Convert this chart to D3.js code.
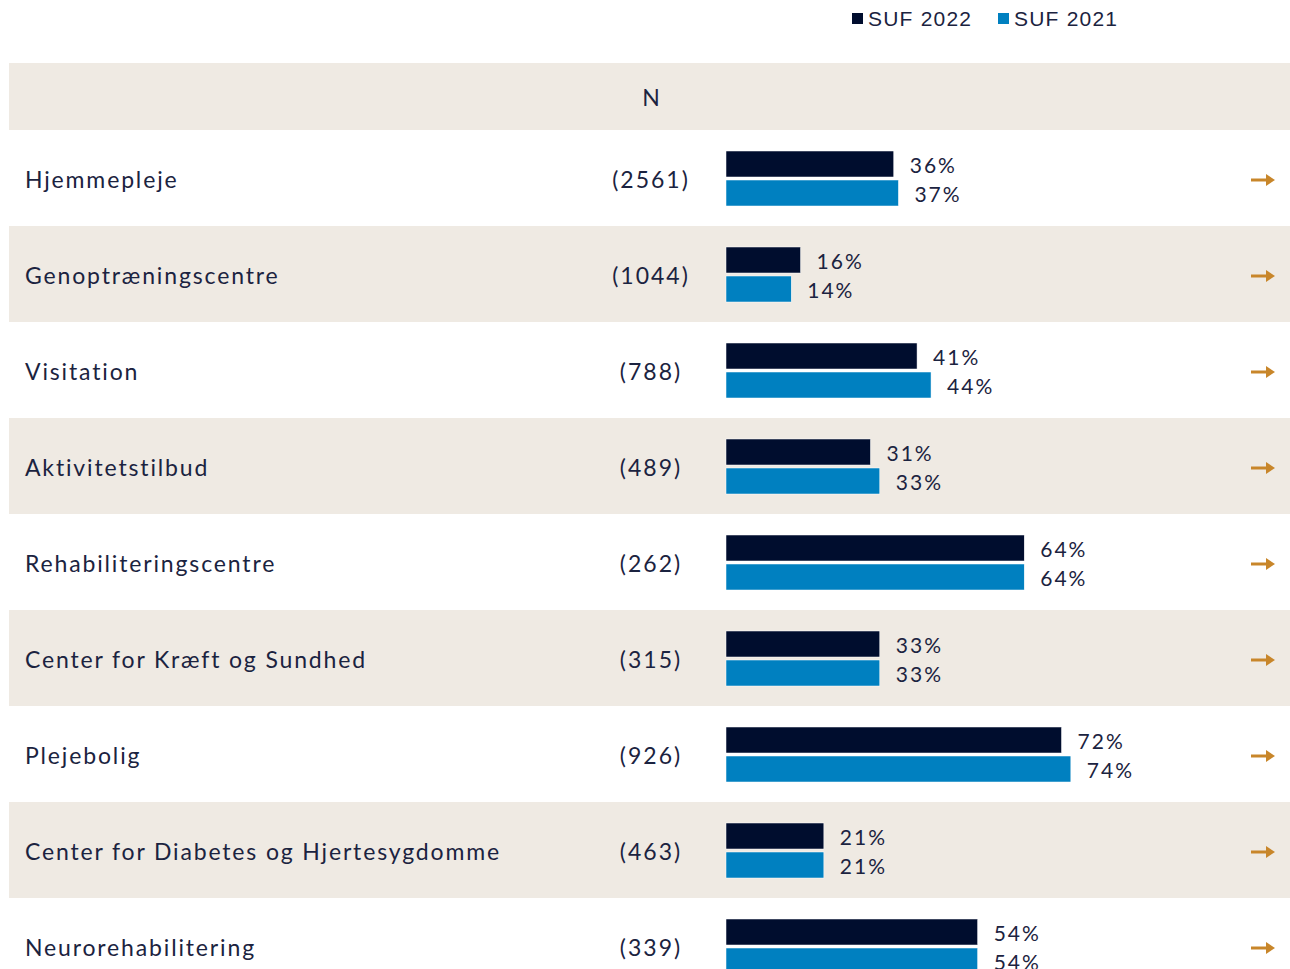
<!DOCTYPE html>
<html lang="da">
<head>
<meta charset="UTF-8">
<title>SUF 2022 vs 2021</title>
<script src="https://d3js.org/d3.v7.min.js"></script>
<style>
    body { margin: 0; background: #fff; }
    svg { display: block; }
    .cat { font-family: "Lato", sans-serif; font-size: 23px; fill: #1b2340; letter-spacing: 1.85px; }
    .num { font-family: "Lato", sans-serif; font-size: 23px; fill: #1b2340; letter-spacing: 2px; }
    .pct { font-family: "Lato", sans-serif; font-size: 21px; fill: #1b2340; letter-spacing: 2px; }
    .leg { font-family: "Liberation Sans", Arial, sans-serif; font-size: 21px; fill: #1b2340; letter-spacing: 1.2px; }
</style>
</head>
<body>
<svg width="1290" height="969"></svg>
<script>
    // data
    const categories = ["Hjemmepleje", "Genoptræningscentre", "Visitation", "Aktivitetstilbud",
        "Rehabiliteringscentre", "Center for Kræft og Sundhed", "Plejebolig",
        "Center for Diabetes og Hjertesygdomme", "Neurorehabilitering"];
    const nValues = [2561, 1044, 788, 489, 262, 315, 926, 463, 339];
    const suf2022 = [36, 16, 41, 31, 64, 33, 72, 21, 54];
    const suf2021 = [37, 14, 44, 33, 64, 33, 74, 21, 54];
    const seriesNames = ["SUF 2022", "SUF 2021"];

    const dark = "#000d2e";
    const blue = "#0080c0";
    const beige = "#efeae3";
    const arrowCol = "#c8862a";

    const svg = d3.select("svg");

    const y = d3.scaleBand().domain(categories).range([130, 130 + 96 * categories.length]).padding(0);
    const x = d3.scaleLinear().domain([0, 100]).range([726, 1192]);

    // header row
    svg.append("rect").attr("x", 9).attr("y", 63).attr("width", 1281).attr("height", 67).attr("fill", beige);
    svg.append("text").attr("class", "num").attr("x", 651).attr("y", 97)
        .attr("text-anchor", "middle").attr("dominant-baseline", "central").style("letter-spacing", "0px").text("N");

    // legend
    const leg = svg.append("g");
    const legX = [852, 998];
    seriesNames.forEach((s, i) => {
        leg.append("rect").attr("x", legX[i]).attr("y", 13).attr("width", 11).attr("height", 11)
            .attr("fill", i === 0 ? dark : blue);
        leg.append("text").attr("class", "leg").attr("x", legX[i] + 16).attr("y", 26).text(s);
    });

    const rows = svg.append("g").selectAll("g")
        .data(categories)
        .join("g")
        .attr("transform", d => `translate(0,${y(d)})`);

    rows.append("rect")
        .attr("x", 9).attr("width", 1281).attr("height", y.bandwidth())
        .attr("fill", (d, i) => i % 2 === 1 ? beige : "#fff");

    rows.append("text").attr("class", "cat")
        .attr("x", 25).attr("y", 49).attr("dominant-baseline", "central")
        .text(d => d);

    rows.append("text").attr("class", "num")
        .attr("x", 651).attr("y", 49).attr("text-anchor", "middle").attr("dominant-baseline", "central")
        .text((d, i) => `(${nValues[i]})`);

    const barH = 26;
    // 2022 bars
    rows.append("rect")
        .attr("x", x(0)).attr("y", 21).attr("height", barH)
        .attr("width", (d, i) => x(suf2022[i]) - x(0))
        .attr("fill", dark).attr("stroke", "#fff").attr("stroke-width", 0.5);
    rows.append("text").attr("class", "pct")
        .attr("x", (d, i) => x(suf2022[i]) + 16).attr("y", 34).attr("dominant-baseline", "central")
        .text((d, i) => suf2022[i] + "%");

    // 2021 bars
    rows.append("rect")
        .attr("x", x(0)).attr("y", 50).attr("height", barH)
        .attr("width", (d, i) => x(suf2021[i]) - x(0))
        .attr("fill", blue).attr("stroke", "#fff").attr("stroke-width", 0.5);
    rows.append("text").attr("class", "pct")
        .attr("x", (d, i) => x(suf2021[i]) + 16).attr("y", 63).attr("dominant-baseline", "central")
        .text((d, i) => suf2021[i] + "%");

    // trend arrows
    const arrow = rows.append("g").attr("transform", "translate(1251,50)");
    arrow.append("line").attr("x1", 0).attr("x2", 16).attr("y1", 0).attr("y2", 0)
        .attr("stroke", arrowCol).attr("stroke-width", 3);
    arrow.append("path").attr("d", "M15,-6 L24,0 L15,6 Z").attr("fill", arrowCol);
</script>
</body>
</html>
